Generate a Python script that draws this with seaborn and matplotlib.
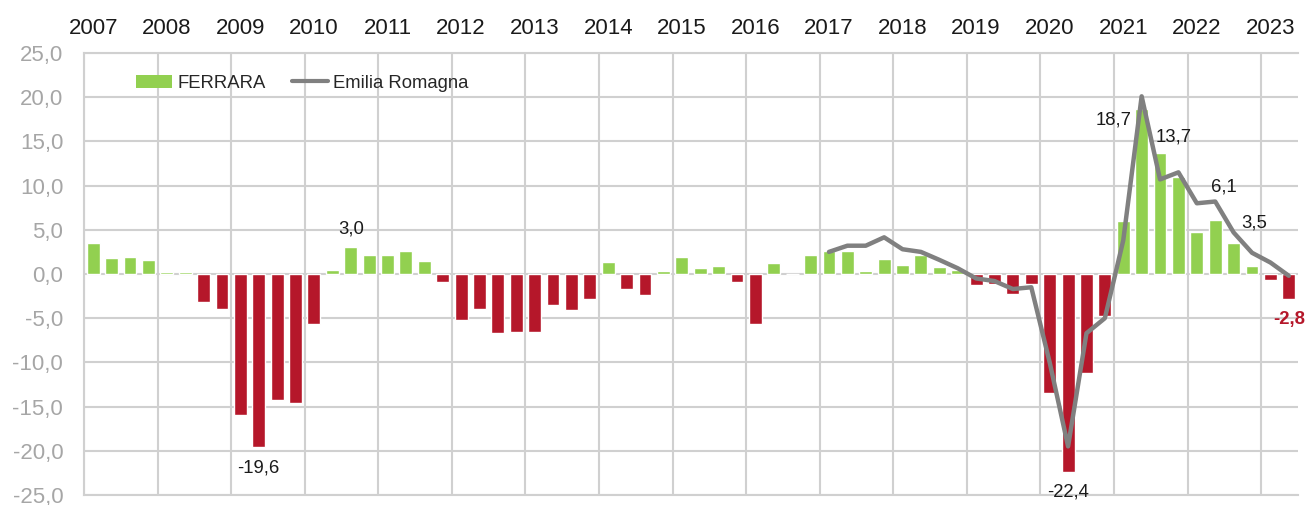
import numpy as np
import pandas as pd
import seaborn as sns
import matplotlib
matplotlib.use("Agg")
import matplotlib.pyplot as plt
from matplotlib.patches import Patch
from matplotlib.lines import Line2D
from matplotlib.ticker import FuncFormatter

# dati trimestrali, variazione % tendenziale
years = list(range(2007, 2024))
ferrara = [
    3.5, 1.8, 1.9, 1.6,         # 2007
    0.2, 0.2, -3.2, -4.0,       # 2008
    -16.0, -19.6, -14.3, -14.6, # 2009
    -5.7, 0.5, 3.0, 2.2,        # 2010
    2.1, 2.6, 1.5, -0.9,        # 2011
    -5.2, -4.0, -6.7, -6.6,     # 2012
    -6.6, -3.5, -4.1, -2.8,     # 2013
    1.4, -1.7, -2.4, 0.3,       # 2014
    1.9, 0.7, 0.9, -0.9,        # 2015
    -5.7, 1.2, 0.0, 2.1,        # 2016
    2.6, 2.6, 0.3, 1.7,         # 2017
    1.0, 2.1, 0.8, 0.5,         # 2018
    -1.2, -1.1, -2.3, -1.1,     # 2019
    -13.5, -22.4, -11.2, -4.8,  # 2020
    6.0, 18.7, 13.7, 11.0,      # 2021
    4.7, 6.1, 3.5, 0.9,         # 2022
    -0.7, -2.8,                 # 2023
]
# Emilia Romagna dal 2017 T1
emilia_start = 2017
emilia = [
    2.5, 3.2, 3.2, 4.15,
    2.8, 2.5, 1.6, 0.65,
    -0.5, -0.8, -1.7, -1.5,
    -10.0, -19.5, -6.7, -5.0,
    3.8, 20.1, 10.7, 11.5,
    8.0, 8.2, 4.7, 2.4,
    1.3, -0.2,
]
# etichette: indice trimestre, testo
labels = [(9, "-19,6"), (14, "3,0"), (53, "-22,4"), (57, "18,7"),
          (58, "13,7"), (61, "6,1"), (62, "3,5"), (65, "-2,8")]

GREEN = "#92D050"
RED = "#B5172A"
GRAY = "#808080"
GRID = "#D0D0D0"

sns.set_theme(style="white")
plt.rcParams['font.family'] = ['Liberation Sans', 'DejaVu Sans']

n = len(ferrara)
df = pd.DataFrame({"q": np.arange(n), "v": ferrara})
df["segno"] = np.where(df["v"] >= 0, "pos", "neg")
em = pd.DataFrame({"q": np.arange(len(emilia)) + (emilia_start - years[0]) * 4,
                   "v": emilia})

fig = plt.figure(figsize=(13.06, 5.05), dpi=100)
ax = fig.add_axes([84 / 1306, 10 / 505, 1214 / 1306, 442 / 505])

sns.barplot(data=df, x="q", y="v", hue="segno",
            palette={"pos": GREEN, "neg": RED}, saturation=1, dodge=False,
            native_scale=True, width=0.7, legend=False, errorbar=None,
            ax=ax, zorder=2)
sns.lineplot(data=em, x="q", y="v", color=GRAY, lw=3.2, ax=ax, zorder=3)

ax.set_xlim(-0.5, n - 0.5)
ax.set_ylim(-25, 25)
ax.set_yticks(np.arange(-25, 26, 5))
ax.yaxis.set_major_formatter(FuncFormatter(lambda v, p: f"{v:.1f}".replace(".", ",")))

ax.set_xticks(np.arange(0, n, 4))
ax.set_xticklabels([str(y) for y in years])
ax.set_xticks(np.arange(-0.5, n, 4), minor=True)
ax.tick_params(axis="x", which="both", top=False, bottom=False,
               labeltop=True, labelbottom=False, labelsize=16, pad=10,
               labelcolor="#1A1A1A", length=0)
ax.tick_params(axis="y", length=0, labelsize=16, labelcolor="#A6A6A6", pad=15)
ax.set_xlabel("")
ax.set_ylabel("")

ax.set_axisbelow(True)
ax.grid(axis="y", which="major", color=GRID, lw=1.5)
ax.grid(axis="x", which="minor", color=GRID, lw=1.5)
ax.grid(axis="x", which="major", visible=False)
for s in ["left", "top", "bottom"]:
    ax.spines[s].set_color(GRID)
    ax.spines[s].set_linewidth(1.5)
ax.spines["right"].set_visible(False)

offsets = {9: (0, -15), 14: (0, 13.3), 53: (0, -14.4), 57: (-20.5, -8.1),
           58: (9.7, 11.5), 61: (6.5, 23.8), 62: (15, 14.4), 65: (0, -15)}
for i, txt in labels:
    bold = i == n - 1
    ax.annotate(txt, xy=(i, ferrara[i]), xytext=offsets[i],
                textcoords="offset points", ha="center", va="center",
                fontsize=13.3, color=RED if bold else "#1A1A1A",
                fontweight="bold" if bold else "normal",
                annotation_clip=False, zorder=4)

handles = [Patch(facecolor=GREEN, edgecolor="none", label="FERRARA"),
           Line2D([0], [0], color=GRAY, lw=3, label="Emilia Romagna")]
ax.legend(handles=handles, loc="center left",
          bbox_to_anchor=((136 - 84) / 1214, (495 - 83) / 442),
          ncol=2, frameon=False, fontsize=13.3, handlelength=1.95,
          handletextpad=0.3, columnspacing=1.4, borderpad=0, borderaxespad=0)

fig.savefig("out.png", dpi=100)
